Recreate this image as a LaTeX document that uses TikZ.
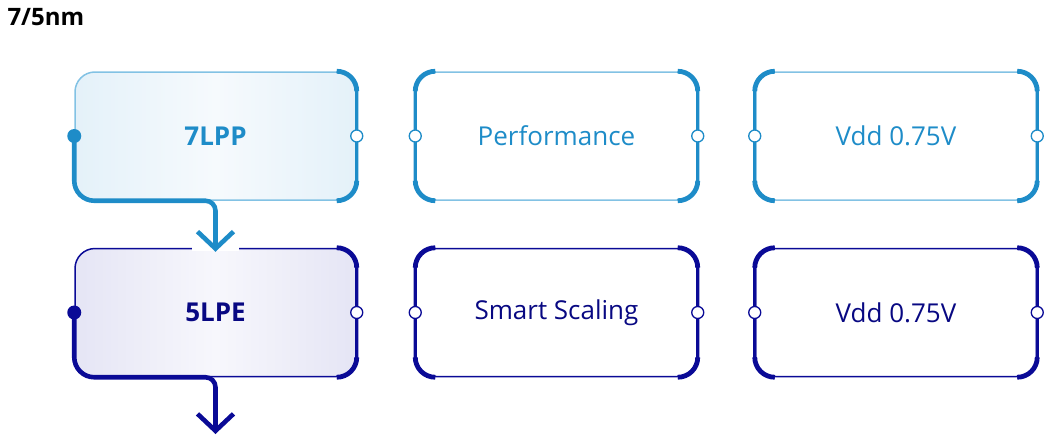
\documentclass[tikz,border=0pt]{standalone}
\usepackage{fontspec}
\setmainfont{Open Sans}
\usetikzlibrary{arrows.meta,calc}
\definecolor{sky}{RGB}{30,140,200}
\definecolor{skythin}{RGB}{130,194,228}
\definecolor{skyfill}{RGB}{228,241,249}
\definecolor{skymid}{RGB}{246,250,253}
\definecolor{navy}{RGB}{10,10,150}
\definecolor{navytext}{RGB}{8,8,130}
\definecolor{navyfill}{RGB}{229,229,245}
\definecolor{navymid}{RGB}{247,247,252}
\tikzset{
  card/.style={rectangle, rounded corners=20pt, minimum width=281pt, minimum height=128pt,
    line width=1.5pt, font=\fontsize{26}{31}\selectfont},
  pin/.style={circle, fill=white, draw=#1, line width=1.3pt, minimum size=12pt, inner sep=0pt},
  dot/.style={circle, fill=#1, minimum size=14pt, inner sep=0pt},
  wire/.style={draw=#1, line width=4.6pt, -{Straight Barb[length=17pt,width=36pt]}, shorten >=-4pt},
}
% thick side of a card: #1 colour, #2 node, #3 west or east
\newcommand\sidebar[3]{%
  \draw[#1, line width=3.2pt, rounded corners=20pt] ($(#2.north #3)!20pt!(#2.north)$) -| (#2.#3) |- ($(#2.south #3)!20pt!(#2.south)$);
  \draw[#1, line width=4.8pt, rounded corners=20pt] ($(#2.north #3)!20pt!(#2.north)$) -| ($(#2.north #3)!20pt!(#2.#3)$);
  \draw[#1, line width=4.8pt, rounded corners=20pt] ($(#2.south #3)!20pt!(#2.south)$) -| ($(#2.south #3)!20pt!(#2.#3)$);
}

\begin{document}
\begin{tikzpicture}[x=1pt, y=-1pt]
	\useasboundingbox (0,0) rectangle (1047,439);
	
	\node[anchor=base west, font=\bfseries\fontsize{24}{28}\selectfont] (title) at (4,25) {7/5nm};
	
	%%%%% 7nm row %%%%%
	\node[card, draw=skythin, left color=skyfill, right color=skyfill, middle color=skymid, text=sky, font=\bfseries\fontsize{26}{31}\selectfont] (l7) at (215.5,136) {7LPP};
	\node[card, draw=skythin, text=sky] (p7) at (556.5,136) {Performance};
	\node[card, draw=skythin, text=sky] (v7) at (896,136) {Vdd 0.75V};
	
	\sidebar{sky}{l7}{east}
	\sidebar{sky}{p7}{west}
	\sidebar{sky}{p7}{east}
	\sidebar{sky}{v7}{west}
	\sidebar{sky}{v7}{east}
	
	%%%%% 5nm row %%%%%
	\node[card, draw=navy, left color=navyfill, right color=navyfill, middle color=navymid, text=navytext, font=\bfseries\fontsize{26}{31}\selectfont] (l5) at (215.5,312.5) {5LPE};
	\node[card, draw=navy, text=navytext] (p5) at (556.5,312.5) {Smart Scaling};
	\node[card, draw=navy, text=navytext] (v5) at (896,312.5) {Vdd 0.75V};
	
	\sidebar{navy}{l5}{east}
	\sidebar{navy}{p5}{west}
	\sidebar{navy}{p5}{east}
	\sidebar{navy}{v5}{west}
	\sidebar{navy}{v5}{east}
	
	%%%%% arrows %%%%%
	\fill[white] (192,245) rectangle (239,251);
	\coordinate (out5) at (215.5,430);
	\draw[wire=sky] (l7.west) [rounded corners=20pt] -- (l7.south west) [rounded corners=10pt] -- (l7.south) -- (l5.north);
	\draw[wire=navy] (l5.west) [rounded corners=20pt] -- (l5.south west) [rounded corners=10pt] -- (l5.south) -- (out5);
	
	%%%%% pins %%%%%
	\node[dot=sky] (l7w) at (l7.west) {};
	\node[dot=navy] (l5w) at (l5.west) {};
	\foreach \n in {l7, p7, v7} {
		\node[pin=sky] (\n e) at (\n.east) {};
	}
	\foreach \n in {p7, v7} {
		\node[pin=sky] (\n w) at (\n.west) {};
	}
	\foreach \n in {l5, p5, v5} {
		\node[pin=navy] (\n e) at (\n.east) {};
	}
	\foreach \n in {p5, v5} {
		\node[pin=navy] (\n w) at (\n.west) {};
	}
\end{tikzpicture}
\end{document}
